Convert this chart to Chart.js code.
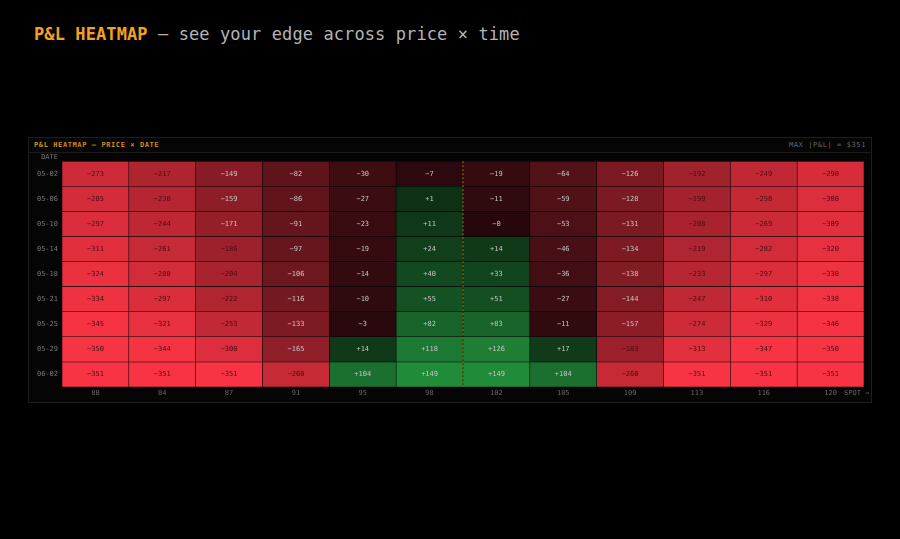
<!DOCTYPE html>
<html><head><meta charset="utf-8">
<script src="https://cdn.jsdelivr.net/npm/chart.js@4"></script>
<style>
body{margin:0;background:#000;width:900px;height:539px;overflow:hidden;font-family:"DejaVu Sans Mono",monospace}
#title{position:absolute;left:34px;top:24px;font-size:17px;color:#b4b4b4;letter-spacing:0.1px}
#title b{color:#f5a020}
#panel{position:absolute;left:28px;top:137px;width:842px;height:264px;border:1px solid #1e1e1e;background:#050505}
#hdr{height:14px;border-bottom:1px solid #1a1a1a;font-size:7px;line-height:14px;padding:0 5px;color:#d08a1a;font-weight:bold;letter-spacing:0.6px}
#hdr span{float:right;color:#666;font-weight:normal}
#wrap{position:absolute;left:0;top:15px;width:842px;height:249px}
</style></head><body>
<div id="title"><b>P&amp;L HEATMAP</b> — see your edge across price × time</div>
<div id="panel"><div id="hdr">P&amp;L HEATMAP — PRICE × DATE<span>MAX |P&amp;L| = $351</span></div>
<div id="wrap"><canvas id="c"></canvas></div></div>
<script>
var prices = ["80","84","87","91","95","98","102","105","109","113","116","120"];
var dates = ["05-02","05-06","05-10","05-14","05-18","05-21","05-25","05-29","06-02"];
var pnl = [
  [-273,-217,-149,-82,-30,-7,-19,-64,-126,-192,-249,-290],
  [-285,-230,-159,-86,-27,1,-11,-59,-128,-199,-258,-300],
  [-297,-244,-171,-91,-23,11,-0,-53,-131,-208,-269,-309],
  [-311,-261,-186,-97,-19,24,14,-46,-134,-219,-282,-320],
  [-324,-280,-204,-106,-14,40,33,-36,-138,-233,-297,-330],
  [-334,-297,-222,-116,-10,55,51,-27,-144,-247,-310,-338],
  [-345,-321,-253,-133,-3,82,83,-11,-157,-274,-329,-346],
  [-350,-344,-300,-165,14,118,126,17,-183,-313,-347,-350],
  [-351,-351,-351,-260,104,149,149,104,-260,-351,-351,-351]
];
var maxAbs = 351;

function mix(a,b,t){return 'rgb('+a.map(function(v,i){return Math.round(v+(b[i]-v)*t);}).join(',')+')';}
function cellColor(v){
  if(v>0){var t=Math.min(v/149,1);return mix([14,48,22],[32,140,58],t);}
  var t=Math.min(-v/maxAbs,1);return mix([38,8,12],[248,52,68],Math.pow(t,0.9));
}
function label(v){return v>0?'+'+v:'−'+Math.abs(v);}

var datasets = dates.map(function(d,i){
  return {data: prices.map(function(){return [i-0.5,i+0.5];}),
    backgroundColor: pnl[i].map(cellColor),
    borderColor:'rgba(0,0,0,0.22)', borderWidth:0.6, borderSkipped:false,
    barPercentage:1, categoryPercentage:1, grouped:false};
});

var cellText = {id:'cellText', afterDatasetsDraw:function(ch){
  var c=ch.ctx, a=ch.chartArea;
  c.save(); c.font='7px "DejaVu Sans Mono"'; c.textAlign='center'; c.textBaseline='middle';
  ch.data.datasets.forEach(function(ds,i){
    ch.getDatasetMeta(i).data.forEach(function(el,j){
      var v=pnl[i][j];
      c.fillStyle = (v<0 && -v/maxAbs>0.5)?'#4a0c12':'#c4c4c4';
      c.fillText(label(v), el.x, (el.y+el.base)/2);
    });
  });
  var x=ch.scales.x, sx=(x.getPixelForValue(5)+x.getPixelForValue(6))/2;
  c.strokeStyle='#b87810'; c.setLineDash([2,2]); c.lineWidth=1;
  c.beginPath(); c.moveTo(sx,a.top); c.lineTo(sx,a.bottom); c.stroke();
  c.setLineDash([]); c.font='7px "DejaVu Sans Mono"'; c.fillStyle='#777';
  c.textAlign='right'; c.fillText('DATE', a.left-4, a.top-4);
  c.textAlign='left'; c.fillStyle='#666'; c.fillText('SPOT →', a.right-20, a.bottom+6);
  c.restore();
}};

new Chart('c', {
  type:'bar',
  data:{labels:prices, datasets:datasets},
  plugins:[cellText],
  options:{
    responsive:true, maintainAspectRatio:false, animation:false,
    layout:{padding:{left:0,right:7,top:7,bottom:0}},
    plugins:{legend:{display:false}, tooltip:{enabled:false}},
    scales:{
      x:{grid:{display:false, drawTicks:false, tickLength:0}, border:{display:false},
        afterFit:function(s){s.height=15;},
        ticks:{color:'#666', font:{family:'DejaVu Sans Mono', size:7}, padding:2}},
      y:{reverse:true, min:-0.5, max:8.5, grid:{display:false, drawTicks:false, tickLength:0}, border:{display:false},
        afterBuildTicks:function(s){s.ticks=dates.map(function(d,i){return {value:i};});},
        afterFit:function(s){s.width=33;},
        ticks:{color:'#777', font:{family:'DejaVu Sans Mono', size:7}, padding:4, callback:function(v){return dates[v];}}}
    }
  }
});
</script></body></html>
